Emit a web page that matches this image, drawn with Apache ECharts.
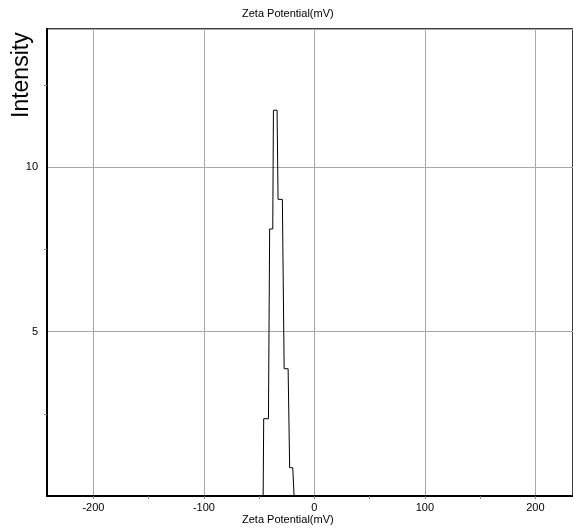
<!DOCTYPE html>
<html>
<head>
<meta charset="utf-8">
<script src="https://cdn.jsdelivr.net/npm/echarts@6/dist/echarts.min.js"></script>
<style>
html, body { margin: 0; padding: 0; background: #fff; }
#main { width: 573px; height: 529px; }
</style>
</head>
<body>
<div id="main"></div>
<script>
// vertices of the distribution trace (mV, intensity)
var zeta = [-242, -46.4, -45.9, -41.6, -40.5, -37.7, -37.1, -33.8, -32.9, -29.0, -27.4, -23.8, -22.4, -19.6, -18.4, 234];
var intensity = [0, 0, 2.35, 2.35, 8.12, 8.12, 11.73, 11.73, 9.02, 9.02, 3.87, 3.87, 0.86, 0.86, 0, 0];

var xLabels = [-200, -100, 0, 100, 200];
var xMinor = [-150, -50, 50, 150];
var yLabels = [5, 10];
var yMinor = [2.5, 7.5, 12.5];

var xRange = [-242, 234];
var yRange = [0, 14.2];

var pts = [];
for (var i = 0; i < zeta.length; i++) {
	pts.push([zeta[i], intensity[i]]);
}

var myChart = echarts.init(document.getElementById('main'));

var font = 'Liberation Sans, Arial, sans-serif';

// 刻度轴：只画小刻度
function tickAxis(range, values) {
	return {
		type: 'value',
		min: range[0],
		max: range[1],
		axisLine: { show: false, onZero: false },
		axisTick: { show: true, customValues: values, length: 3, lineStyle: { color: '#888' } },
		axisLabel: { show: false },
		splitLine: { show: false }
	};
}

var xTicks = tickAxis(xRange, xMinor.concat(xLabels));
xTicks.position = 'bottom';
var yTicks = tickAxis(yRange, yMinor);
yTicks.position = 'left';

option = {
	backgroundColor: '#fff',
	animation: false,
	grid: {
		left: 47,
		right: 0,
		top: 29,
		bottom: 33,
		show: true,
		borderColor: '#000',
		borderWidth: 1.5
	},
	graphic: [{
		type: 'text',
		left: 242,
		top: 8,
		style: { text: 'Zeta Potential(mV)', font: '11px ' + font, fill: '#000' }
	}, {
		type: 'text',
		left: 242,
		top: 514,
		style: { text: 'Zeta Potential(mV)', font: '11px ' + font, fill: '#000' }
	}, {
		type: 'text',
		x: 10,
		y: 118,
		rotation: Math.PI / 2,
		style: { text: 'Intensity', font: '23px ' + font, fill: '#000', textVerticalAlign: 'top' }
	}],
	xAxis: [{
		type: 'value',
		min: xRange[0],
		max: xRange[1],
		splitNumber: 5,
		axisLine: { show: true, onZero: false, lineStyle: { color: '#000', width: 2 } },
		axisTick: { show: false },
		axisLabel: {
			customValues: xLabels,
			margin: 6,
			color: '#000',
			fontSize: 11,
			fontFamily: font
		},
		splitLine: { show: true, lineStyle: { color: '#a8a8a8', width: 1 } }
	}, xTicks],
	yAxis: [{
		type: 'value',
		min: yRange[0],
		max: yRange[1],
		interval: 5,
		axisLine: { show: true, onZero: false, lineStyle: { color: '#000', width: 2 } },
		axisTick: { show: false },
		axisLabel: {
			customValues: yLabels,
			margin: 9,
			color: '#000',
			fontSize: 11,
			fontFamily: font
		},
		splitLine: { show: true, lineStyle: { color: '#a8a8a8', width: 1 } }
	}, yTicks],
	series: [{
		type: 'line',
		data: pts,
		symbol: 'none',
		clip: true,
		lineStyle: { color: '#000', width: 1 }
	}]
};

myChart.setOption(option);
</script>
</body>
</html>
